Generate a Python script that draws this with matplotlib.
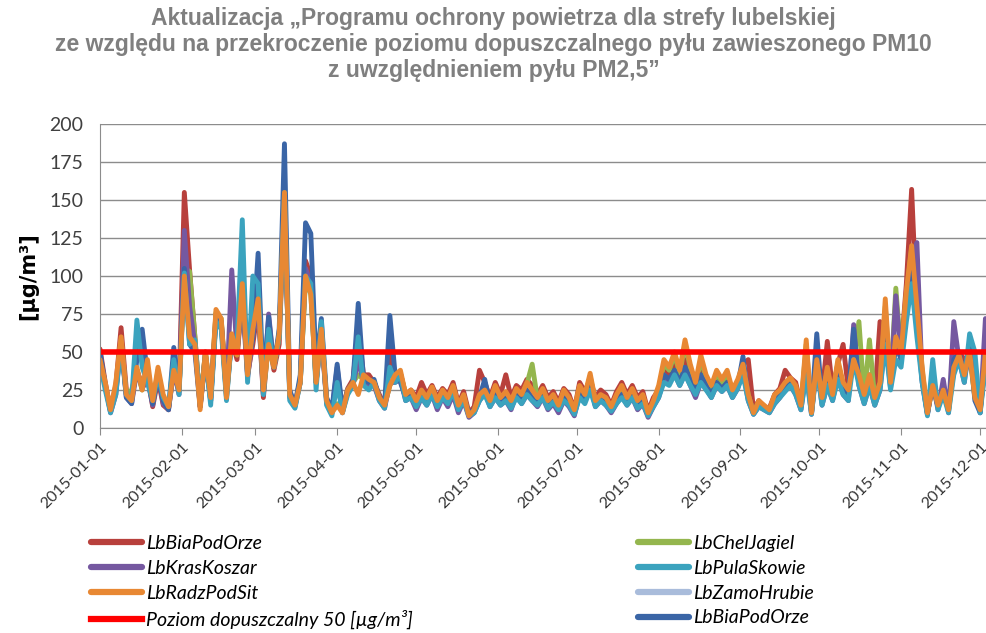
import matplotlib

matplotlib.use("Agg")

import matplotlib.pyplot as plt  # noqa: E402
import matplotlib.dates as mdates  # noqa: E402
import pandas as pd  # noqa: E402

# PM10 daily means (read every second day from the reference), 2015-01-01 .. 2015-12-05
dates = pd.date_range("2015-01-01", periods=170, freq="2D")

bia_pod_orze = [
    52, 30, 12, 28, 66, 25, 20, 38, 28, 35, 14, 32, 15, 12, 40, 25,
    155, 104, 60, 14, 50, 20, 75, 70, 25, 58, 45, 90, 35, 55,
    80, 20, 58, 38, 55, 150, 22, 16, 32, 110, 100, 30, 62, 18, 12,
    30, 12, 26, 32, 65, 35, 35, 30, 22, 15, 50, 32, 36, 22, 25,
    20, 30, 22, 28, 20, 26, 22, 30, 16, 24, 10, 14, 38, 30, 20,
    30, 22, 35, 20, 28, 25, 32, 28, 22, 28, 20, 24, 17, 26, 22,
    12, 30, 24, 32, 20, 25, 22, 15, 24, 30, 22, 28, 20, 24, 11, 20,
    25, 40, 35, 42, 32, 45, 35, 28, 40, 32, 26, 35, 30, 34, 24, 30,
    42, 45, 12, 18, 14, 13, 22, 26, 38, 33, 30, 15, 50, 10, 45,
    22, 57, 25, 42, 55, 25, 50, 35, 22, 35, 20, 70, 60, 30, 55, 50,
    95, 157, 75, 35, 10, 30, 15, 28, 14, 42, 50, 45, 48, 25, 12, 45, 38,
]
chel_jagiel = [
    45, 28, 12, 26, 58, 22, 25, 38, 25, 40, 16, 38, 18, 13, 38, 24,
    105, 103, 60, 15, 50, 20, 76, 72, 22, 60, 48, 92, 35, 62,
    82, 24, 55, 40, 60, 150, 22, 15, 30, 98, 88, 30, 64, 18, 11,
    16, 11, 25, 30, 35, 32, 30, 30, 20, 15, 28, 34, 36, 22, 24,
    17, 24, 19, 26, 17, 24, 19, 27, 14, 21, 8, 12, 21, 24, 17,
    27, 19, 23, 17, 25, 21, 29, 42, 19, 25, 17, 21, 14, 24, 19,
    11, 27, 21, 34, 17, 21, 19, 13, 21, 27, 19, 25, 17, 21, 9, 17,
    26, 42, 38, 48, 36, 55, 40, 28, 45, 33, 26, 36, 30, 36, 23, 30,
    40, 22, 10, 17, 14, 11, 21, 24, 29, 31, 27, 14, 55, 10, 43,
    19, 38, 21, 43, 28, 24, 44, 70, 20, 58, 19, 28, 80, 28, 92, 48,
    88, 118, 78, 38, 10, 27, 14, 24, 11, 38, 46, 34, 48, 20, 11, 48, 38,
]
kras_koszar = [
    48, 28, 10, 22, 58, 20, 16, 38, 26, 32, 15, 35, 16, 12, 38, 22,
    130, 80, 55, 14, 48, 18, 72, 70, 22, 104, 50, 85, 33, 60,
    82, 22, 75, 40, 62, 150, 20, 14, 30, 105, 95, 30, 62, 16, 10,
    40, 10, 24, 28, 45, 30, 28, 28, 18, 13, 30, 30, 32, 18, 20,
    12, 20, 15, 22, 12, 20, 14, 22, 10, 18, 7, 10, 18, 24, 14,
    20, 15, 18, 12, 22, 16, 22, 18, 14, 20, 12, 16, 10, 18, 14,
    8, 22, 18, 30, 14, 18, 15, 10, 16, 22, 15, 20, 12, 16, 7, 14,
    20, 32, 30, 36, 28, 36, 28, 20, 30, 26, 20, 28, 24, 28, 20, 26,
    38, 18, 9, 14, 12, 10, 16, 20, 26, 28, 22, 12, 38, 9, 42,
    15, 28, 18, 35, 22, 18, 68, 28, 16, 28, 15, 25, 60, 26, 87, 45,
    75, 110, 122, 32, 9, 30, 12, 32, 10, 70, 45, 30, 55, 40, 10, 72, 40,
]
pula_skowie = [
    42, 25, 10, 22, 55, 22, 18, 71, 40, 30, 18, 35, 20, 14, 45, 22,
    102, 55, 58, 16, 48, 15, 70, 65, 18, 60, 55, 137, 30, 100,
    95, 22, 65, 40, 60, 155, 18, 13, 30, 100, 95, 25, 70, 15, 8,
    30, 10, 22, 28, 60, 28, 25, 30, 18, 13, 40, 30, 35, 18, 20,
    14, 20, 15, 22, 14, 20, 16, 24, 12, 18, 8, 10, 18, 22, 14,
    20, 15, 18, 13, 20, 16, 22, 18, 15, 20, 13, 17, 12, 18, 15,
    9, 20, 16, 25, 14, 18, 15, 11, 16, 20, 15, 20, 13, 16, 8, 14,
    20, 30, 28, 35, 28, 35, 28, 22, 30, 25, 20, 28, 24, 28, 20, 26,
    35, 18, 9, 14, 12, 10, 16, 20, 24, 28, 22, 12, 35, 9, 40,
    15, 28, 18, 32, 22, 18, 45, 28, 16, 28, 15, 25, 55, 25, 45, 40,
    70, 95, 60, 30, 8, 45, 12, 22, 10, 35, 45, 30, 62, 50, 10, 40, 30,
]
radz_pod_sit = [
    45, 30, 12, 30, 60, 22, 18, 40, 25, 45, 18, 40, 22, 14, 38, 25,
    100, 60, 55, 12, 50, 20, 78, 72, 20, 62, 48, 95, 35, 65,
    85, 25, 55, 40, 62, 155, 22, 15, 30, 100, 88, 30, 65, 18, 10,
    15, 10, 25, 30, 22, 35, 32, 30, 20, 15, 28, 35, 38, 22, 25,
    18, 25, 20, 27, 18, 25, 20, 28, 15, 22, 8, 12, 22, 25, 18,
    28, 20, 24, 18, 26, 22, 30, 25, 20, 26, 18, 22, 15, 25, 20,
    12, 28, 22, 36, 18, 22, 20, 14, 22, 28, 20, 26, 18, 22, 10, 18,
    28, 45, 40, 50, 38, 58, 42, 30, 48, 35, 28, 38, 32, 38, 25, 32,
    42, 22, 10, 18, 15, 12, 22, 25, 30, 33, 28, 15, 58, 10, 45,
    20, 40, 22, 45, 30, 25, 45, 35, 22, 35, 20, 30, 85, 30, 60, 50,
    90, 120, 80, 40, 10, 28, 15, 25, 12, 40, 48, 35, 50, 20, 12, 50, 40,
]
zamo_hrubie = []
bia_pod_orze_2 = [
    50, 28, 11, 25, 55, 20, 16, 45, 65, 35, 16, 35, 18, 12, 53, 25,
    105, 55, 50, 14, 45, 18, 72, 68, 20, 60, 50, 90, 38, 60,
    115, 28, 73, 40, 65, 187, 25, 15, 35, 135, 128, 40, 72, 20, 12,
    42, 12, 25, 30, 82, 32, 30, 32, 20, 15, 74, 35, 30, 20, 22,
    16, 22, 18, 25, 16, 22, 18, 25, 13, 20, 10, 12, 20, 32, 16,
    22, 17, 20, 15, 22, 18, 25, 20, 17, 22, 15, 18, 13, 20, 17,
    10, 22, 18, 28, 15, 20, 17, 12, 18, 22, 17, 22, 15, 18, 10, 15,
    22, 35, 32, 38, 30, 40, 32, 24, 35, 28, 22, 30, 26, 30, 22, 28,
    47, 20, 10, 15, 13, 12, 18, 22, 26, 30, 25, 14, 40, 12, 62,
    18, 32, 20, 38, 26, 22, 65, 30, 20, 30, 18, 28, 70, 28, 55, 45,
    80, 110, 70, 30, 9, 30, 14, 25, 12, 45, 50, 35, 55, 18, 10, 45, 35,
]
limit_value = 50

title = ("Aktualizacja \u201eProgramu ochrony powietrza dla strefy lubelskiej\n"
         "ze względu na przekroczenie poziomu dopuszczalnego pyłu zawieszonego PM10\n"
         "z uwzględnieniem pyłu PM2,5\u201d")
month_ticks = pd.date_range("2015-01-01", "2015-12-01", freq="MS")

C_RED = "#b8403c"
C_GREEN = "#94b64e"
C_PURPLE = "#7558a0"
C_TEAL = "#3ba3be"
C_ORANGE = "#e88833"
C_LBLUE = "#a9bcdb"
C_DBLUE = "#3a65a6"

fig = plt.figure(figsize=(9.87, 6.33), dpi=100)
ax = fig.add_axes([100 / 987, 205 / 633, 887 / 987, 304 / 633])

line_kw = dict(lw=3.5, solid_joinstyle="round", solid_capstyle="round")
l_red, = ax.plot(dates, bia_pod_orze, color=C_RED, label="LbBiaPodOrze", **line_kw)
l_green, = ax.plot(dates, chel_jagiel, color=C_GREEN, label="LbChelJagiel", **line_kw)
l_purple, = ax.plot(dates, kras_koszar, color=C_PURPLE, label="LbKrasKoszar", **line_kw)
l_dblue, = ax.plot(dates, bia_pod_orze_2, color=C_DBLUE, label="LbBiaPodOrze", **line_kw)
l_teal, = ax.plot(dates, pula_skowie, color=C_TEAL, label="LbPulaSkowie", **line_kw)
l_lblue, = ax.plot(dates[:len(zamo_hrubie)], zamo_hrubie, color=C_LBLUE,
                   label="LbZamoHrubie", **line_kw)
l_orange, = ax.plot(dates, radz_pod_sit, color=C_ORANGE, label="LbRadzPodSit", **line_kw)
l_limit = ax.axhline(limit_value, color="#ff0000", lw=4,
                     label="Poziom dopuszczalny 50 [\u00b5g/m\u00b3]")

ax.set_ylim(0, 200)
ax.set_yticks(range(0, 201, 25))
ax.set_xlim(pd.Timestamp("2015-01-01"), pd.Timestamp("2015-01-01") + pd.Timedelta(days=336.6))
ax.set_xticks(month_ticks)
ax.xaxis.set_major_formatter(mdates.DateFormatter("%Y-%m-%d"))
ax.grid(axis="y", color="#8c8c8c", lw=1.0)
ax.set_axisbelow(True)
for side in ("top", "right"):
    ax.spines[side].set_visible(False)
for side in ("left", "bottom"):
    ax.spines[side].set_color("#8c8c8c")
ax.tick_params(axis="y", length=0, pad=12, labelsize=14, labelcolor="#404040")
ax.tick_params(axis="x", length=5, color="#8c8c8c", labelsize=11.5, labelcolor="#333333")
for lab in ax.get_xticklabels():
    lab.set_rotation(45)
    lab.set_horizontalalignment("right")
    lab.set_rotation_mode("anchor")
for lab in ax.get_yticklabels():
    lab.set_family("Lato")
for lab in ax.get_xticklabels():
    lab.set_family("Lato")
ax.set_ylabel("[\u00b5g/m\u00b3]", fontsize=15, fontweight="bold", labelpad=8)

fig.text(0.5, 1 - 7 / 633, title, ha="center", va="top", fontsize=16.5, fontweight="bold",
         color="#7f7f7f", family="Liberation Sans", linespacing=1.18)

leg_kw = dict(frameon=False, loc="upper left", handlelength=2.6, handletextpad=0.25,
              labelspacing=0.4, borderpad=0, borderaxespad=0,
              prop={"family": "Lato", "style": "italic", "size": 14})
leg1 = fig.legend(handles=[l_red, l_purple, l_orange, l_limit],
                  bbox_to_anchor=(91 / 987, 1 - 535 / 633), **leg_kw)
leg2 = fig.legend(handles=[l_green, l_teal, l_lblue, l_dblue],
                  bbox_to_anchor=(638 / 987, 1 - 535 / 633), **leg_kw)
for leg in (leg1, leg2):
    for h in leg.legend_handles:
        h.set_linewidth(4.5)

fig.savefig("out.png")
